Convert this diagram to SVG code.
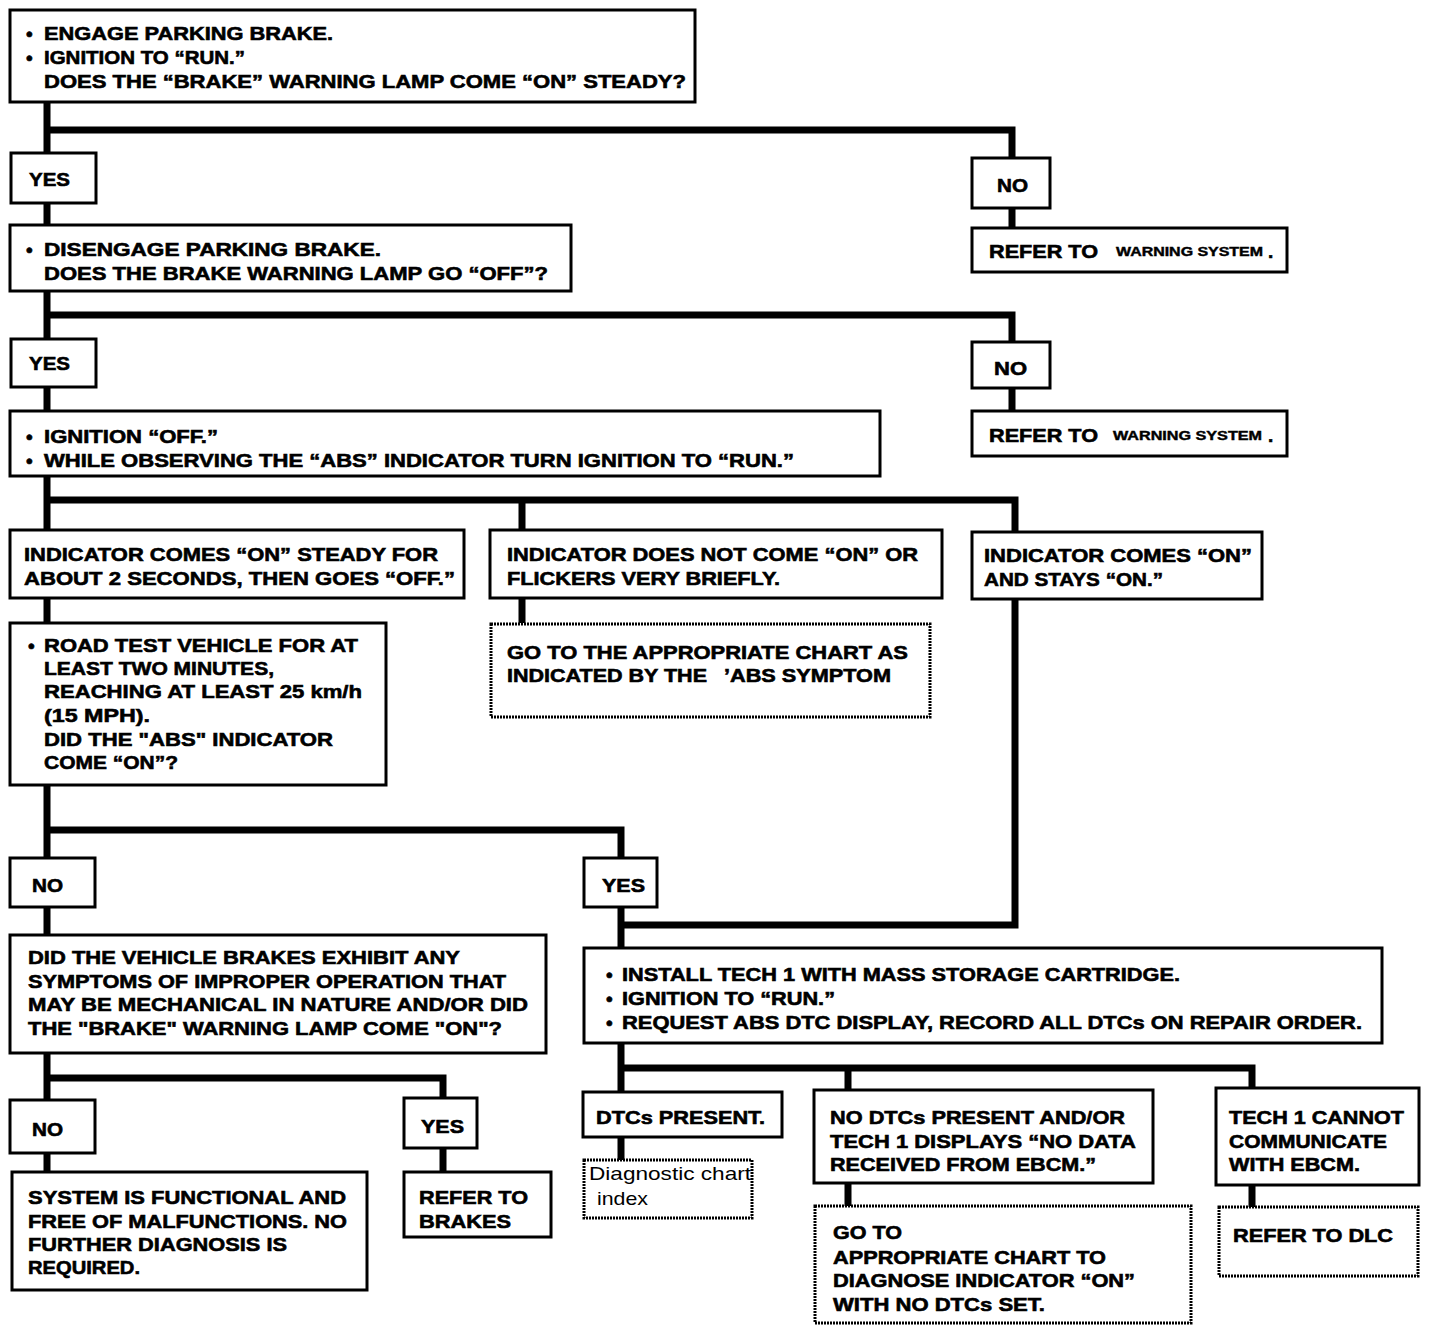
<svg xmlns="http://www.w3.org/2000/svg" width="1440" height="1332" viewBox="0 0 1440 1332">
<style>
.bx{fill:#fff;stroke:#000;stroke-width:3}
.dt{fill:#fff;stroke:#000;stroke-width:3;stroke-dasharray:2 1}
.cn{fill:none;stroke:#000;stroke-width:7;stroke-linejoin:miter}
text{font-family:"Liberation Sans",Arial,sans-serif;font-weight:bold;font-size:19px;fill:#000;stroke:#000;stroke-width:0.6}
.sm{font-size:12px;stroke-width:0.4}
.rg{font-weight:normal;font-size:19px;stroke-width:0}
</style>
<rect width="1440" height="1332" fill="#fff"/>
<g id="connectors">
<path class="cn" d="M47,102 V153 M47,130 H1012 V158 M47,203 V225 M1012,208 V228"/>
<path class="cn" d="M47,291 V339 M47,315 H1012 V342 M47,387 V411 M1012,388 V411"/>
<path class="cn" d="M47,476 V530 M47,500 H1015 V532 M522,500 V530"/>
<path class="cn" d="M522,598 V623 M47,598 V623 M1015,599 V925 H621"/>
<path class="cn" d="M47,785 V858 M47,830 H621 V858 M621,907 V948 M47,907 V935"/>
<path class="cn" d="M47,1053 V1100 M47,1078 H443 V1098 M47,1153 V1172 M443,1148 V1172"/>
<path class="cn" d="M621,1043 V1092 M621,1068 H1252 V1088 M848,1068 V1090"/>
<path class="cn" d="M621,1137 V1160 M848,1183 V1206 M1252,1185 V1207"/>
</g>
<g id="n1">
<rect class="bx" x="10" y="10" width="685" height="92"/>
<text x="26" y="40">•</text><text x="44" y="40" textLength="289" lengthAdjust="spacingAndGlyphs">ENGAGE PARKING BRAKE.</text>
<text x="26" y="64">•</text><text x="44" y="64" textLength="201" lengthAdjust="spacingAndGlyphs">IGNITION TO “RUN.”</text>
<text x="44" y="88" textLength="642" lengthAdjust="spacingAndGlyphs">DOES THE “BRAKE” WARNING LAMP COME “ON” STEADY?</text>
</g>
<g id="yes1"><rect class="bx" x="11" y="153" width="85" height="50"/><text x="29" y="186" textLength="41" lengthAdjust="spacingAndGlyphs">YES</text></g>
<g id="no1"><rect class="bx" x="972" y="158" width="78" height="50"/><text x="997" y="192" textLength="31" lengthAdjust="spacingAndGlyphs">NO</text></g>
<g id="refer1"><rect class="bx" x="972" y="228" width="315" height="44"/>
<text x="989" y="258" textLength="109" lengthAdjust="spacingAndGlyphs">REFER TO</text>
<text class="sm" x="1116" y="256" textLength="147" lengthAdjust="spacingAndGlyphs">WARNING SYSTEM</text><text x="1268" y="258">.</text></g>
<g id="n2">
<rect class="bx" x="10" y="225" width="561" height="66"/>
<text x="26" y="256">•</text><text x="44" y="256" textLength="337" lengthAdjust="spacingAndGlyphs">DISENGAGE PARKING BRAKE.</text>
<text x="44" y="280" textLength="504" lengthAdjust="spacingAndGlyphs">DOES THE BRAKE WARNING LAMP GO “OFF”?</text>
</g>
<g id="yes2"><rect class="bx" x="11" y="339" width="85" height="48"/><text x="29" y="370" textLength="41" lengthAdjust="spacingAndGlyphs">YES</text></g>
<g id="no2"><rect class="bx" x="972" y="342" width="78" height="46"/><text x="994" y="375" textLength="33" lengthAdjust="spacingAndGlyphs">NO</text></g>
<g id="refer2"><rect class="bx" x="972" y="411" width="315" height="45"/>
<text x="989" y="442" textLength="109" lengthAdjust="spacingAndGlyphs">REFER TO</text>
<text class="sm" x="1113" y="440" textLength="149" lengthAdjust="spacingAndGlyphs">WARNING SYSTEM</text><text x="1268" y="442">.</text></g>
<g id="n3">
<rect class="bx" x="10" y="411" width="870" height="65"/>
<text x="26" y="443">•</text><text x="44" y="443" textLength="174" lengthAdjust="spacingAndGlyphs">IGNITION “OFF.”</text>
<text x="26" y="467">•</text><text x="44" y="467" textLength="750" lengthAdjust="spacingAndGlyphs">WHILE OBSERVING THE “ABS” INDICATOR TURN IGNITION TO “RUN.”</text>
</g>
<g id="n3a">
<rect class="bx" x="10" y="530" width="454" height="68"/>
<text x="24" y="561" textLength="414" lengthAdjust="spacingAndGlyphs">INDICATOR COMES “ON” STEADY FOR</text>
<text x="24" y="585" textLength="431" lengthAdjust="spacingAndGlyphs">ABOUT 2 SECONDS, THEN GOES “OFF.”</text>
</g>
<g id="n3b">
<rect class="bx" x="490" y="530" width="452" height="68"/>
<text x="507" y="561" textLength="411" lengthAdjust="spacingAndGlyphs">INDICATOR DOES NOT COME “ON” OR</text>
<text x="507" y="585" textLength="273" lengthAdjust="spacingAndGlyphs">FLICKERS VERY BRIEFLY.</text>
</g>
<g id="n3c">
<rect class="bx" x="972" y="532" width="290" height="67"/>
<text x="984" y="562" textLength="268" lengthAdjust="spacingAndGlyphs">INDICATOR COMES “ON”</text>
<text x="984" y="586" textLength="179" lengthAdjust="spacingAndGlyphs">AND STAYS “ON.”</text>
</g>
<g id="n3b1">
<rect class="dt" x="491" y="624" width="439" height="93"/>
<text x="507" y="659" textLength="401" lengthAdjust="spacingAndGlyphs">GO TO THE APPROPRIATE CHART AS</text>
<text x="507" y="682" textLength="200" lengthAdjust="spacingAndGlyphs">INDICATED BY THE</text>
<text x="724" y="682" textLength="167" lengthAdjust="spacingAndGlyphs">’ABS SYMPTOM</text>
</g>
<g id="n4">
<rect class="bx" x="10" y="623" width="376" height="162"/>
<text x="28" y="652">•</text><text x="44" y="652" textLength="314" lengthAdjust="spacingAndGlyphs">ROAD TEST VEHICLE FOR AT</text>
<text x="44" y="675" textLength="230" lengthAdjust="spacingAndGlyphs">LEAST TWO MINUTES,</text>
<text x="44" y="698" textLength="318" lengthAdjust="spacingAndGlyphs">REACHING AT LEAST 25 km/h</text>
<text x="44" y="722" textLength="106" lengthAdjust="spacingAndGlyphs">(15 MPH).</text>
<text x="44" y="746" textLength="289" lengthAdjust="spacingAndGlyphs">DID THE "ABS" INDICATOR</text>
<text x="44" y="769" textLength="134" lengthAdjust="spacingAndGlyphs">COME “ON”?</text>
</g>
<g id="no3"><rect class="bx" x="10" y="858" width="85" height="49"/><text x="32" y="892" textLength="31" lengthAdjust="spacingAndGlyphs">NO</text></g>
<g id="yes3"><rect class="bx" x="584" y="858" width="73" height="49"/><text x="602" y="892" textLength="43" lengthAdjust="spacingAndGlyphs">YES</text></g>
<g id="n5">
<rect class="bx" x="10" y="935" width="536" height="118"/>
<text x="28" y="964" textLength="432" lengthAdjust="spacingAndGlyphs">DID THE VEHICLE BRAKES EXHIBIT ANY</text>
<text x="28" y="988" textLength="478" lengthAdjust="spacingAndGlyphs">SYMPTOMS OF IMPROPER OPERATION THAT</text>
<text x="28" y="1011" textLength="500" lengthAdjust="spacingAndGlyphs">MAY BE MECHANICAL IN NATURE AND/OR DID</text>
<text x="28" y="1035" textLength="474" lengthAdjust="spacingAndGlyphs">THE "BRAKE" WARNING LAMP COME "ON"?</text>
</g>
<g id="n6">
<rect class="bx" x="584" y="948" width="798" height="95"/>
<text x="606" y="981">•</text><text x="622" y="981" textLength="558" lengthAdjust="spacingAndGlyphs">INSTALL TECH 1 WITH MASS STORAGE CARTRIDGE.</text>
<text x="606" y="1005">•</text><text x="622" y="1005" textLength="213" lengthAdjust="spacingAndGlyphs">IGNITION TO “RUN.”</text>
<text x="606" y="1029">•</text><text x="622" y="1029" textLength="740" lengthAdjust="spacingAndGlyphs">REQUEST ABS DTC DISPLAY, RECORD ALL DTCs ON REPAIR ORDER.</text>
</g>
<g id="no4"><rect class="bx" x="10" y="1100" width="85" height="53"/><text x="32" y="1136" textLength="31" lengthAdjust="spacingAndGlyphs">NO</text></g>
<g id="yes4"><rect class="bx" x="404" y="1098" width="73" height="50"/><text x="421" y="1133" textLength="43" lengthAdjust="spacingAndGlyphs">YES</text></g>
<g id="n7">
<rect class="bx" x="12" y="1172" width="355" height="118"/>
<text x="28" y="1204" textLength="318" lengthAdjust="spacingAndGlyphs">SYSTEM IS FUNCTIONAL AND</text>
<text x="28" y="1228" textLength="319" lengthAdjust="spacingAndGlyphs">FREE OF MALFUNCTIONS. NO</text>
<text x="28" y="1251" textLength="259" lengthAdjust="spacingAndGlyphs">FURTHER DIAGNOSIS IS</text>
<text x="28" y="1274" textLength="112" lengthAdjust="spacingAndGlyphs">REQUIRED.</text>
</g>
<g id="n8">
<rect class="bx" x="404" y="1172" width="147" height="65"/>
<text x="419" y="1204" textLength="109" lengthAdjust="spacingAndGlyphs">REFER TO</text>
<text x="419" y="1228" textLength="92" lengthAdjust="spacingAndGlyphs">BRAKES</text>
</g>
<g id="n9"><rect class="bx" x="583" y="1092" width="199" height="45"/><text x="596" y="1124" textLength="169" lengthAdjust="spacingAndGlyphs">DTCs PRESENT.</text></g>
<g id="n9a">
<rect class="dt" x="584" y="1160" width="168" height="58"/>
<text class="rg" x="589" y="1180" textLength="162" lengthAdjust="spacingAndGlyphs">Diagnostic chart</text>
<text class="rg" x="597" y="1205" textLength="51" lengthAdjust="spacingAndGlyphs">index</text>
</g>
<g id="n10">
<rect class="bx" x="814" y="1090" width="339" height="93"/>
<text x="830" y="1124" textLength="295" lengthAdjust="spacingAndGlyphs">NO DTCs PRESENT AND/OR</text>
<text x="830" y="1148" textLength="306" lengthAdjust="spacingAndGlyphs">TECH 1 DISPLAYS “NO DATA</text>
<text x="830" y="1171" textLength="266" lengthAdjust="spacingAndGlyphs">RECEIVED FROM EBCM.”</text>
</g>
<g id="n10a">
<rect class="dt" x="815" y="1206" width="376" height="117"/>
<text x="833" y="1239" textLength="69" lengthAdjust="spacingAndGlyphs">GO TO</text>
<text x="833" y="1264" textLength="273" lengthAdjust="spacingAndGlyphs">APPROPRIATE CHART TO</text>
<text x="833" y="1287" textLength="302" lengthAdjust="spacingAndGlyphs">DIAGNOSE INDICATOR “ON”</text>
<text x="833" y="1311" textLength="212" lengthAdjust="spacingAndGlyphs">WITH NO DTCs SET.</text>
</g>
<g id="n11">
<rect class="bx" x="1216" y="1088" width="203" height="97"/>
<text x="1229" y="1124" textLength="175" lengthAdjust="spacingAndGlyphs">TECH 1 CANNOT</text>
<text x="1229" y="1148" textLength="158" lengthAdjust="spacingAndGlyphs">COMMUNICATE</text>
<text x="1229" y="1171" textLength="131" lengthAdjust="spacingAndGlyphs">WITH EBCM.</text>
</g>
<g id="n11a">
<rect class="dt" x="1219" y="1207" width="199" height="69"/>
<text x="1233" y="1242" textLength="160" lengthAdjust="spacingAndGlyphs">REFER TO DLC</text>
</g>
</svg>
